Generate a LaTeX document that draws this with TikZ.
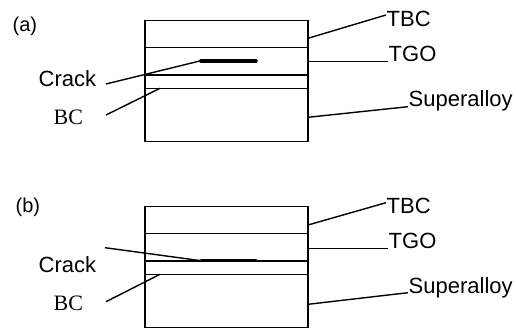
\documentclass[tikz,border=0pt]{standalone}
\usepackage{fontspec}
\setmainfont{Liberation Sans}
\newfontfamily\timesfont{Liberation Serif}
\begin{document}
\begin{tikzpicture}[x=1pt,y=-1pt,line width=1.4pt,
  lbl/.style={inner sep=0pt,anchor=base west,font=\fontsize{22}{24}\selectfont},
  plbl/.style={inner sep=0pt,anchor=base west,font=\fontsize{20}{22}\selectfont},
  serlbl/.style={inner sep=0pt,anchor=base west,font=\fontsize{22}{24}\selectfont\timesfont},
  crackline/.style={line width=3.6pt,line cap=round},
  leader/.style={line width=1.4pt}]
\useasboundingbox (0,0) rectangle (516,329);

% ---------- panel (a) ----------
\node[plbl] (pa) at (12,32) {(a)};
\draw (145,20.7) rectangle (308,141.7);
\draw (145,47.3) -- (308,47.3);
\draw (145,75) -- (308,75);
\draw (145,88.3) -- (308,88.3);
\draw[crackline] (201,60.7) coordinate (cka1) -- (256,60.7) coordinate (cka2);
\node[lbl] (cracka) at (38,86) {Crack};
\node[serlbl] (bca) at (53,124) {BC};
\node[lbl] (tbca) at (386,26.7) {TBC};
\node[lbl] (tgoa) at (388,61.7) {TGO};
\node[lbl] (supa) at (408,106.7) {Superalloy};
\coordinate (cka0) at (106,84);
\coordinate (bca0) at (106,115);
\coordinate (bca1) at (160,88.3);
\coordinate (tbca0) at (308,38.3);
\coordinate (tbca1) at (386,15);
\coordinate (tgoa0) at (308,61.7);
\coordinate (tgoa1) at (388,61.7);
\coordinate (supa0) at (308,117.3);
\coordinate (supa1) at (408,106.7);
\draw[leader] (cka0) -- (cka1);
\draw[leader] (bca0) -- (bca1);
\draw[leader] (tbca0) -- (tbca1);
\draw[leader] (tgoa0) -- (tgoa1);
\draw[leader] (supa0) -- (supa1);

% ---------- panel (b) ----------
\node[plbl] (pb) at (15,212) {(b)};
\begin{scope}[shift={(0,186)}]
\draw (145,20.7) rectangle (308,141.7);
\draw (145,47.3) -- (308,47.3);
\draw (145,75) -- (308,75);
\draw (145,88.3) -- (308,88.3);
\draw[crackline,line width=3pt] (201,74.7) coordinate (ckb1) -- (256,74.7) coordinate (ckb2);
\node[lbl] (crackb) at (38,86) {Crack};
\node[serlbl] (bcb) at (53,124.7) {BC};
\node[lbl] (tbcb) at (386,27.5) {TBC};
\node[lbl] (tgob) at (388,62) {TGO};
\node[lbl] (supb) at (408,107) {Superalloy};
\coordinate (ckb0) at (105,61.7);
\coordinate (bcb0) at (106,115.7);
\coordinate (bcb1) at (160,88.3);
\coordinate (tbcb0) at (308,39);
\coordinate (tbcb1) at (386,16.7);
\coordinate (tgob0) at (308,62.3);
\coordinate (tgob1) at (388,62.3);
\coordinate (supb0) at (308,118.3);
\coordinate (supb1) at (408,106.7);
\draw[leader] (ckb0) -- (ckb1);
\draw[leader] (bcb0) -- (bcb1);
\draw[leader] (tbcb0) -- (tbcb1);
\draw[leader] (tgob0) -- (tgob1);
\draw[leader] (supb0) -- (supb1);
\end{scope}
\end{tikzpicture}
\end{document}
